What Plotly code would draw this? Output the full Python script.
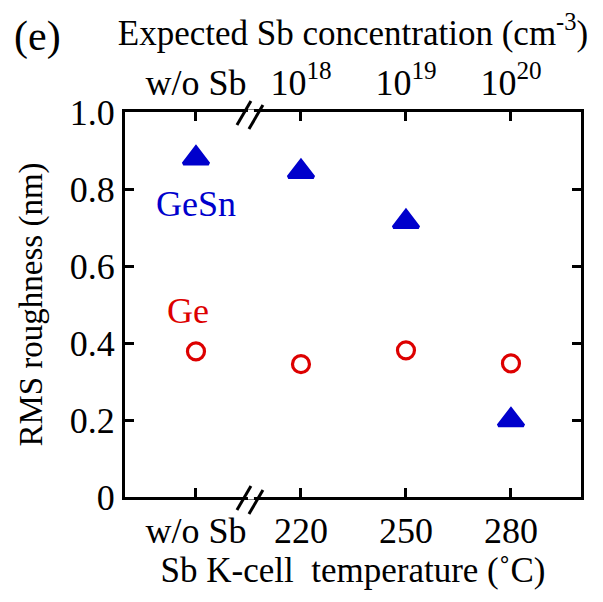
import plotly.graph_objects as go

# ---- data ----
positions = [0, 1, 2, 3]
bottom_labels = ["w/o Sb", "220", "250", "280"]
top_labels = ["w/o Sb", "10<sup>18</sup>", "10<sup>19</sup>", "10<sup>20</sup>"]
gesn_rms = [0.88, 0.845, 0.715, 0.20]
ge_rms = [0.378, 0.345, 0.381, 0.347]
y_tickvals = [0, 0.2, 0.4, 0.6, 0.8, 1.0]
y_ticktext = ["0", "0.2", "0.4", "0.6", "0.8", "1.0"]

FONT = "'Liberation Serif', 'Times New Roman', 'DejaVu Serif', serif"
BLUE = "#0000CC"
RED = "#DD0000"
FS_TICK = 36
FS_XT = 35
FS_YT = 33
FS_LAB = 36

fig = go.Figure()

fig.add_trace(go.Scatter(
    x=positions, y=gesn_rms, mode="markers", name="GeSn",
    marker=dict(symbol="triangle-up", size=22, color=BLUE,
                line=dict(color=BLUE, width=3.5)),
    showlegend=False))

fig.add_trace(go.Scatter(
    x=positions, y=ge_rms, mode="markers", name="Ge",
    marker=dict(symbol="circle-open", size=17, color=RED,
                line=dict(color=RED, width=3.2)),
    showlegend=False))

# invisible trace on the top axis
fig.add_trace(go.Scatter(x=positions, y=ge_rms, xaxis="x2", mode="markers",
                         marker=dict(opacity=0), hoverinfo="skip",
                         showlegend=False))

xr = [-0.676, 3.667]
axis_common = dict(showline=True, linecolor="black", linewidth=3,
                   ticks="inside", ticklen=9, tickwidth=3, tickcolor="black",
                   showgrid=False, zeroline=False, automargin=False,
                   tickfont=dict(family=FONT, size=FS_TICK, color="black"))

# margins compensate for the 8px default page body margin
fig.update_layout(
    width=603, height=602,
    margin=dict(l=117, r=30, t=104, b=113),
    paper_bgcolor="white", plot_bgcolor="white",
    font=dict(family=FONT, size=FS_TICK, color="black"),
    xaxis=dict(range=xr, tickvals=positions, ticktext=bottom_labels,
               title=dict(text="Sb K-cell&nbsp; temperature (˚C)",
                          font=dict(family=FONT, size=FS_XT), standoff=8),
               **axis_common),
    xaxis2=dict(range=xr, tickvals=positions, ticktext=top_labels,
                overlaying="x", side="top",
                title=dict(text="Expected Sb concentration (cm<sup>-3</sup>)",
                           font=dict(family=FONT, size=FS_XT), standoff=6),
                **axis_common),
    yaxis=dict(range=[0, 1.0], tickvals=y_tickvals, ticktext=y_ticktext,
               mirror="ticks",
               title=dict(text="RMS roughness (nm)",
                          font=dict(family=FONT, size=FS_YT), standoff=18),
               **axis_common),
)

# series labels
fig.add_annotation(x=0, y=0.762, text="GeSn", showarrow=False,
                   font=dict(family=FONT, size=FS_LAB, color=BLUE))
fig.add_annotation(x=-0.076, y=0.482, text="Ge", showarrow=False,
                   font=dict(family=FONT, size=FS_LAB, color=RED))
# panel label
fig.add_annotation(xref="paper", yref="paper", x=-0.248, y=1.197,
                   xanchor="left", yanchor="middle", text="(e)",
                   showarrow=False, font=dict(family=FONT, size=42))

# axis break marks (top and bottom), paper-referenced so they are not clipped
brk = 0.514
brk_paper = (brk - xr[0]) / (xr[1] - xr[0])
for yv in [0, 1]:
    fig.add_shape(type="line", xref="paper", yref="paper", xsizemode="pixel",
                  ysizemode="pixel", xanchor=brk_paper, yanchor=yv,
                  x0=-2, x1=4, y0=0, y1=0,
                  line=dict(color="white", width=5), layer="above")
    for off, dy in [(-6, -1), (6, -5)]:
        fig.add_shape(type="line", xref="paper", yref="paper",
                      xsizemode="pixel", ysizemode="pixel",
                      xanchor=brk_paper, yanchor=yv,
                      x0=off - 7, x1=off + 7, y0=dy - 12, y1=dy + 12,
                      line=dict(color="black", width=3), layer="above")

fig.write_html("out.html")
